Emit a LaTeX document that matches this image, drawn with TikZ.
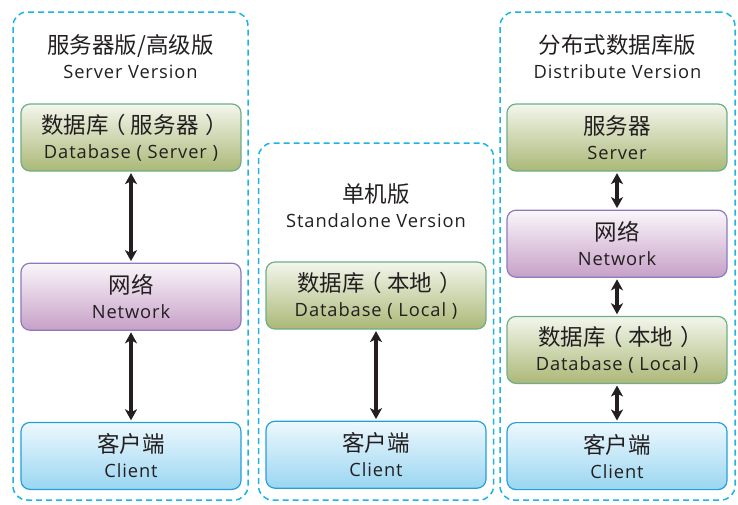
\documentclass[tikz,border=0pt]{standalone}
\usepackage{fontspec}
\setmainfont{Noto Sans CJK SC}
\newfontfamily\enfont[LetterSpace=5]{Open Sans}
\usepackage{xcolor}
\usetikzlibrary{positioning,arrows.meta}

\definecolor{grpblue}{HTML}{1CB4E4}
\definecolor{dbedge}{HTML}{6FAE88}
\definecolor{dbtop}{HTML}{F3F6EC}
\definecolor{dbbot}{HTML}{ABB877}
\definecolor{netedge}{HTML}{8B7BBD}
\definecolor{nettop}{HTML}{FAF6FA}
\definecolor{netbot}{HTML}{C7A0C8}
\definecolor{cliedge}{HTML}{23A0DC}
\definecolor{clitop}{HTML}{EDF8FD}
\definecolor{clibot}{HTML}{9AD6F1}
\definecolor{ink}{HTML}{231F20}

\newcommand{\twolines}[2]{{\fontsize{22.5}{25}\selectfont #1}\\{\enfont #2}}
\newcommand{\zhlp}{\kern-5pt（\kern5pt}
\newcommand{\zhrp}{\kern7pt）\kern-7pt}

\begin{document}
\begin{tikzpicture}[x=1pt, y=-1pt, text=ink,
    group/.style={draw=grpblue, dash pattern=on 6pt off 4pt, line width=1.5pt, rounded corners=14pt, minimum width=235pt, inner sep=0pt},
    title/.style={align=center, inner sep=0pt, font=\fontsize{18.3}{25}\selectfont},
    box/.style={rounded corners=9pt, minimum width=220pt, minimum height=67pt, line width=1.2pt, align=center, inner sep=0pt, font=\fontsize{18.3}{25}\selectfont},
    dbbox/.style={box, draw=dbedge, top color=dbtop, bottom color=dbbot},
    netbox/.style={box, draw=netedge, top color=nettop, bottom color=netbot},
    clibox/.style={box, draw=cliedge, top color=clitop, bottom color=clibot},
    link/.style={{Stealth[length=11pt,width=12pt,inset=3pt]}-{Stealth[length=11pt,width=12pt,inset=3pt]}, line width=3.5pt, draw=ink, shorten >=1.5pt, shorten <=1.5pt}]
    \useasboundingbox (0,0) rectangle (738,504);

    % Groups
    \node [group, minimum height=488pt] (grpsrv) at (130.5,256) {};
    \node [group, minimum height=357pt] (grpsa) at (376,321.5) {};
    \node [group, minimum height=488pt] (grpdist) at (617.5,256) {};

    % Titles
    \node [title] (ttlsrv) at (130.5,56.5) {\twolines{服务器版/高级版}{Server Version}};
    \node [title] (ttlsa) at (376,205.5) {\twolines{单机版}{Standalone Version}};
    \node [title] (ttldist) at (617.5,56.5) {\twolines{分布式数据库版}{Distribute Version}};

    % Server version
    \node [dbbox] (dbsrv) at (131,137.5) {\twolines{数据库\zhlp 服务器\zhrp}{Database ( Server )}};
    \node [netbox, below=91pt of dbsrv] (netsrv) {\twolines{网络}{Network}};
    \node [clibox, below=91pt of netsrv] (clisrv) {\twolines{客户端}{Client}};

    % Standalone version
    \node [dbbox] (dbsa) at (376,295.5) {\twolines{数据库\zhlp 本地\zhrp}{Database ( Local )}};
    \node [clibox, below=91pt of dbsa] (clisa) {\twolines{客户端}{Client}};

    % Distributed version
    \node [dbbox] (srvdist) at (617,137.5) {\twolines{服务器}{Server}};
    \node [netbox, below=38pt of srvdist] (netdist) {\twolines{网络}{Network}};
    \node [dbbox, below=38pt of netdist] (dbdist) {\twolines{数据库\zhlp 本地\zhrp}{Database ( Local )}};
    \node [clibox, below=38pt of dbdist] (clidist) {\twolines{客户端}{Client}};

    % Arrows
    \draw [link] (dbsrv) -- (netsrv);
    \draw [link] (netsrv) -- (clisrv);
    \draw [link] (dbsa) -- (clisa);
    \draw [link] (srvdist) -- (netdist);
    \draw [link] (netdist) -- (dbdist);
    \draw [link] (dbdist) -- (clidist);
\end{tikzpicture}
\end{document}
